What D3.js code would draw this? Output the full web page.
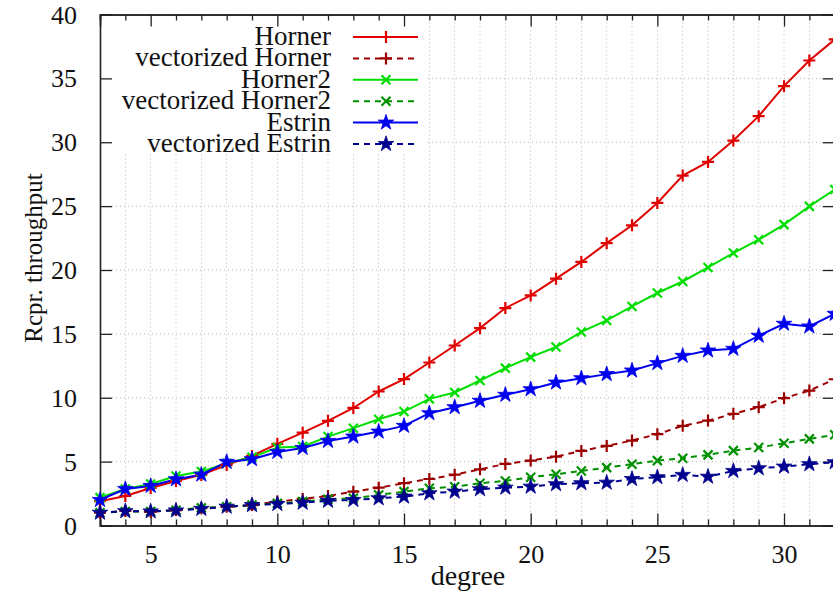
<!DOCTYPE html>
<html>
<head>
<meta charset="utf-8">
<script src="https://cdn.jsdelivr.net/npm/d3@7"></script>
<style>
  html, body { margin: 0; padding: 0; background: #fff; }
  svg { display: block; }
</style>
</head>
<body>
<svg id="chart" width="833" height="596"></svg>
<script>
const degrees = [3,4,5,6,7,8,9,10,11,12,13,14,15,16,17,18,19,20,21,22,23,24,25,26,27,28,29,30,31,32];

const horner = [1.9,2.31,2.94,3.49,3.96,4.74,5.45,6.39,7.27,8.19,9.2,10.49,11.46,12.76,14.09,15.45,17.02,18.01,19.32,20.63,22.1,23.5,25.25,27.39,28.46,30.13,32.04,34.39,36.4,38.05];
const vecHorner = [1.0,1.14,1.08,1.21,1.35,1.47,1.6,1.87,2.08,2.31,2.65,2.96,3.31,3.64,3.98,4.4,4.82,5.08,5.39,5.84,6.23,6.65,7.15,7.8,8.21,8.74,9.26,9.97,10.56,11.45];
const horner2 = [2.18,2.86,3.25,3.88,4.22,4.87,5.34,6.1,6.18,6.96,7.62,8.32,8.92,9.91,10.41,11.35,12.32,13.18,13.97,15.15,16.05,17.15,18.2,19.1,20.2,21.33,22.37,23.55,24.98,26.3];
const vecHorner2 = [1.0,1.1,1.1,1.2,1.38,1.47,1.6,1.74,1.87,2.05,2.13,2.39,2.65,2.91,3.04,3.31,3.49,3.78,4.01,4.27,4.53,4.8,5.08,5.27,5.53,5.86,6.1,6.44,6.78,7.1];
const estrin = [2.0,2.86,3.1,3.62,3.98,4.98,5.19,5.76,6.07,6.62,6.96,7.35,7.8,8.79,9.26,9.76,10.23,10.67,11.19,11.53,11.85,12.13,12.71,13.28,13.7,13.83,14.85,15.79,15.58,16.57];
const vecEstrin = [1.0,1.12,1.1,1.18,1.3,1.47,1.6,1.68,1.78,1.93,2.0,2.13,2.26,2.52,2.65,2.84,2.96,3.04,3.23,3.31,3.35,3.64,3.78,3.96,3.82,4.27,4.48,4.61,4.8,4.95];

const seriesNames = ["Horner","vectorized Horner","Horner2","vectorized Horner2","Estrin","vectorized Estrin"];
const seriesValues = [horner, vecHorner, horner2, vecHorner2, estrin, vecEstrin];
const seriesColors = ["#e00000","#9b0000","#00dd00","#009000","#0000ee","#00008e"];
const seriesDashed = [false,true,false,true,false,true];
const seriesMarkers = ["plus","plus","cross","cross","star","star"];

const xTicks = [5,10,15,20,25,30];
const yTicks = [0,5,10,15,20,25,30,35,40];
const xLabel = "degree";
const yLabel = "Rcpr. throughput";

const FONT = "'Liberation Serif', serif";
const svg = d3.select("#chart");
const pL = 100, pR = 834.7, pT = 14.5, pB = 525.5;
const x = d3.scaleLinear().domain([3,32]).range([pL,pR]);
const y = d3.scaleLinear().domain([0,40]).range([pB,pT]);

const minorX = d3.range(4,32);

// grid
const grid = svg.append("g").attr("stroke","#b4b4b4").attr("stroke-width",1).attr("stroke-dasharray","1,3");
minorX.forEach(d => grid.append("line").attr("x1",x(d)).attr("x2",x(d)).attr("y1",pT).attr("y2",pB));
yTicks.filter(v => v>0 && v<40).forEach(v => grid.append("line").attr("x1",pL).attr("x2",pR).attr("y1",y(v)).attr("y2",y(v)));

// legend background
svg.append("rect").attr("x",pL+1).attr("y",pT+1).attr("width",324).attr("height",138).attr("fill","#fff");

// axes
const gxb = svg.append("g").attr("transform",`translate(0,${pB})`).call(d3.axisBottom(x).tickValues(xTicks).tickSize(-12).tickPadding(0).tickFormat(d3.format("d")));
const gxbm = svg.append("g").attr("transform",`translate(0,${pB})`).call(d3.axisBottom(x).tickValues(minorX.filter(d=>d%5)).tickSize(-6).tickFormat(""));
const gxt = svg.append("g").attr("transform",`translate(0,${pT})`).call(d3.axisTop(x).tickValues(xTicks).tickSize(-12).tickFormat(""));
const gxtm = svg.append("g").attr("transform",`translate(0,${pT})`).call(d3.axisTop(x).tickValues(minorX.filter(d=>d%5)).tickSize(-6).tickFormat(""));
const gyl = svg.append("g").attr("transform",`translate(${pL},0)`).call(d3.axisLeft(y).tickValues(yTicks).tickSize(-12).tickPadding(23).tickFormat(d3.format("d")));
const gyr = svg.append("g").attr("transform",`translate(${pR},0)`).call(d3.axisRight(y).tickValues(yTicks).tickSize(-12).tickFormat(""));
[gxb,gxbm,gxt,gxtm,gyl,gyr].forEach(g => {
  g.attr("font-family",null).attr("font-size",null);
  g.selectAll(".domain").attr("stroke","#222").attr("stroke-width",1.6);
  g.selectAll(".tick line").attr("stroke","#222").attr("stroke-width",1.3);
  g.selectAll("text").style("font-family",FONT).style("font-size","26px").attr("fill","#111");
});
gxb.selectAll(".tick text").attr("y",37).attr("dy",null);
gyl.selectAll(".tick text").attr("dy","0.33em");

// clip
svg.append("clipPath").attr("id","clip").append("rect").attr("x",pL).attr("y",pT).attr("width",pR-pL).attr("height",pB-pT);

function drawMarker(g, type, cx, cy, color) {
  if (type === "plus") {
    g.append("path").attr("d",`M${cx-6},${cy}H${cx+6}M${cx},${cy-6}V${cy+6}`).attr("stroke",color).attr("stroke-width",2.2).attr("fill","none");
  } else if (type === "cross") {
    g.append("path").attr("d",`M${cx-4.5},${cy-4.5}L${cx+4.5},${cy+4.5}M${cx-4.5},${cy+4.5}L${cx+4.5},${cy-4.5}`).attr("stroke",color).attr("stroke-width",2.2).attr("fill","none");
  } else {
    g.append("path").attr("d",d3.symbol().type(d3.symbolStar).size(75)()).attr("transform",`translate(${cx},${cy})`).attr("fill",color).attr("stroke",color).attr("stroke-width",0.8);
  }
}

const line = d3.line().x((d,i)=>x(degrees[i])).y(d=>y(d));
const plot = svg.append("g").attr("clip-path","url(#clip)");
seriesValues.forEach((vals,si) => {
  plot.append("path").datum(vals).attr("d",line).attr("fill","none")
    .attr("stroke",seriesColors[si]).attr("stroke-width",2)
    .attr("stroke-dasharray",seriesDashed[si] ? "6,5" : null);
});
seriesValues.forEach((vals,si) => {
  const g = svg.append("g");
  vals.forEach((v,i) => drawMarker(g, seriesMarkers[si], x(degrees[i]), y(v), seriesColors[si]));
});

// legend
const leg = svg.append("g");
seriesNames.forEach((name,i) => {
  const cy = 37 + i*21.4;
  leg.append("text").attr("x",331).attr("y",cy+8).attr("text-anchor","end")
    .style("font-family",FONT).style("font-size","27px").attr("fill","#111").text(name);
  leg.append("line").attr("x1",353).attr("x2",418).attr("y1",cy).attr("y2",cy)
    .attr("stroke",seriesColors[i]).attr("stroke-width",2)
    .attr("stroke-dasharray",seriesDashed[i] ? "6,5" : null);
  drawMarker(leg, seriesMarkers[i], 386, cy, seriesColors[i]);
});

// axis labels
svg.append("text").attr("x",468).attr("y",585).attr("text-anchor","middle")
  .style("font-family",FONT).style("font-size","28px").attr("fill","#111").text(xLabel);
svg.append("text").attr("transform","translate(42,258) rotate(-90)").attr("text-anchor","middle")
  .style("font-family",FONT).style("font-size","25px").attr("fill","#111").text(yLabel);
</script>
</body>
</html>
